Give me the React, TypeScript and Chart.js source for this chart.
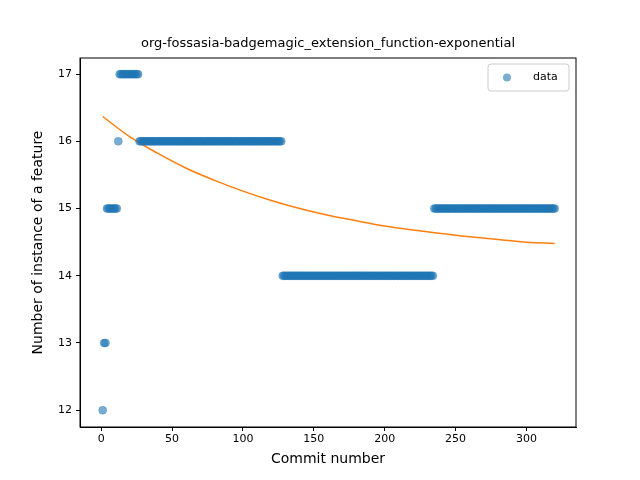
import { useEffect, useRef } from "react"
import { Chart, registerables } from "chart.js"

Chart.register(...registerables)

// scatter data as runs of equal value: commit numbers start..end
const runStarts = [1, 2, 4, 12, 13, 27, 128, 235]
const runEnds = [1, 3, 11, 12, 26, 127, 234, 320]
const runValues = [12, 13, 15, 16, 17, 16, 14, 15]

// fitted exponential curve
const fitX = [1, 20, 40, 60, 80, 100, 120, 140, 160, 180, 200, 220, 240, 260, 280, 300, 320]
const fitY = [16.37, 16.07, 15.82, 15.6, 15.42, 15.26, 15.12, 15.0, 14.9, 14.82, 14.74, 14.68, 14.63, 14.58, 14.54, 14.5, 14.48]

const xTicks = [0, 50, 100, 150, 200, 250, 300]
const yTicks = [12, 13, 14, 15, 16, 17]
const title = "org-fossasia-badgemagic_extension_function-exponential"
const font = "'DejaVu Sans', sans-serif"

export default function App() {
  const chartRef = useRef<HTMLCanvasElement>(null)
  const chartInstance = useRef<Chart | null>(null)

  useEffect(() => {
    document.body.style.margin = "0"
    if (!chartRef.current) return
    if (chartInstance.current) chartInstance.current.destroy()

    const points: { x: number; y: number }[] = []
    runStarts.forEach((s, i) => {
      for (let x = s; x <= runEnds[i]; x++) points.push({ x, y: runValues[i] })
    })

    const frame = {
      id: "frame",
      afterDraw(chart: Chart) {
        const { ctx, chartArea: a } = chart
        ctx.save()
        ctx.strokeStyle = "#000"
        ctx.lineWidth = 1
        ctx.strokeRect(a.left, a.top, a.right - a.left, a.bottom - a.top)
        ctx.fillStyle = "#000"
        ctx.font = `13px ${font}`
        ctx.textAlign = "center"
        ctx.textBaseline = "middle"
        ctx.fillText(title, (a.left + a.right) / 2, 44)
        // legend
        const lx = 488, ly = 64, lw = 81, lh = 27
        ctx.strokeStyle = "#ccc"
        ctx.fillStyle = "rgba(255,255,255,0.8)"
        ctx.beginPath()
        ctx.roundRect(lx, ly, lw, lh, 3)
        ctx.fill()
        ctx.stroke()
        ctx.fillStyle = "rgba(31,119,180,0.6)"
        ctx.beginPath()
        ctx.arc(lx + 19, ly + lh / 2, 4, 0, Math.PI * 2)
        ctx.fill()
        ctx.fillStyle = "#000"
        ctx.font = `11px ${font}`
        ctx.textAlign = "left"
        ctx.fillText("data", lx + 45, ly + lh / 2)
        ctx.restore()
      },
    }

    const ctx = chartRef.current.getContext("2d")
    if (ctx) {
      chartInstance.current = new Chart(ctx, {
        type: "scatter",
        data: {
          datasets: [
            {
              label: "data",
              data: points,
              pointRadius: 4,
              pointBackgroundColor: "rgba(31,119,180,0.6)",
              pointBorderColor: "rgba(31,119,180,0.6)",
              pointBorderWidth: 0.5,
            },
            {
              label: "fit",
              type: "line",
              data: fitX.map((x, i) => ({ x, y: fitY[i] })),
              borderColor: "#ff7f0e",
              borderWidth: 1.5,
              pointRadius: 0,
              tension: 0.4,
            },
          ],
        },
        options: {
          responsive: false,
          animation: false,
          layout: { padding: { top: 58, right: 64, left: 30, bottom: 12 } },
          plugins: { legend: { display: false }, tooltip: { enabled: false } },
          scales: {
            x: {
              type: "linear",
              min: -15,
              max: 335,
              afterFit: (s: any) => { s.height = 41 },
              afterBuildTicks: (s: any) => { s.ticks = xTicks.map((v) => ({ value: v })) },
              ticks: { color: "#000", font: { family: font, size: 11 }, padding: 2, maxRotation: 0 },
              grid: { drawOnChartArea: false, tickLength: 4, tickColor: "#000" },
              border: { color: "#000" },
              title: { display: true, text: "Commit number", color: "#000", font: { family: font, size: 14 }, padding: 0 },
            },
            y: {
              min: 11.75,
              max: 17.24,
              afterFit: (s: any) => { s.width = 50 },
              afterBuildTicks: (s: any) => { s.ticks = yTicks.map((v) => ({ value: v })) },
              ticks: { color: "#000", font: { family: font, size: 11 }, padding: 4 },
              grid: { drawOnChartArea: false, tickLength: 4, tickColor: "#000" },
              border: { color: "#000" },
              title: { display: true, text: "Number of instance of a feature", color: "#000", font: { family: font, size: 14 }, padding: 0 },
            },
          },
        },
        plugins: [frame],
      })
    }
    return () => {
      if (chartInstance.current) chartInstance.current.destroy()
    }
  }, [])

  return (
    <div style={{ width: 640, height: 480 }}>
      <canvas ref={chartRef} width={640} height={480} />
    </div>
  )
}
